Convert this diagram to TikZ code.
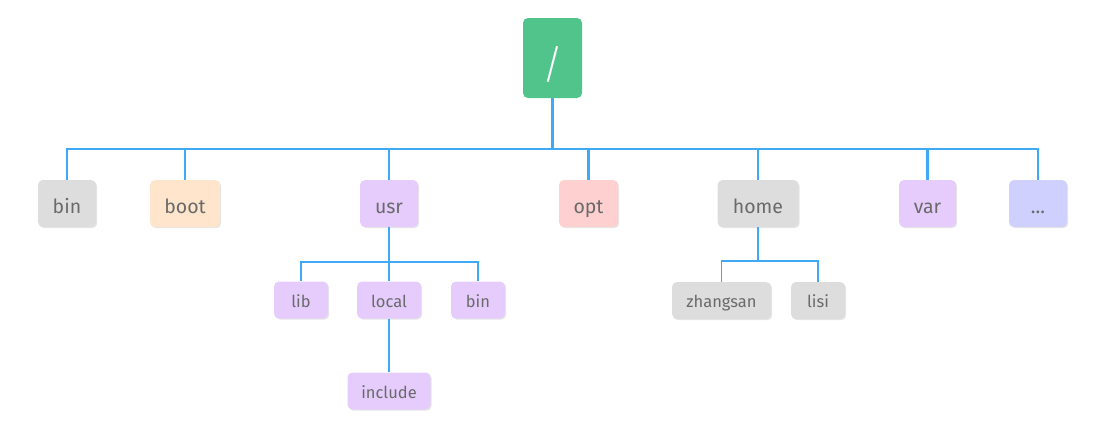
\documentclass[tikz,border=0pt]{standalone}
\usepackage{fontspec}
\setmainfont{Fira Sans}
\newfontfamily\lightfont{Fira Sans Light}
\usetikzlibrary{shadows}
\definecolor{rootgreen}{HTML}{50C48A}
\definecolor{linkblue}{HTML}{3FA9F5}
\definecolor{boxgray}{HTML}{DDDDDD}
\definecolor{boxpeach}{HTML}{FFE5CC}
\definecolor{boxpurple}{HTML}{E6CCFC}
\definecolor{boxpink}{HTML}{FFD0D0}
\definecolor{boxblue}{HTML}{D0D0FF}
\definecolor{txtgray}{HTML}{6A6A6A}
\newcommand\dn[2]{\raisebox{#1}[0pt][0pt]{#2}}
\tikzset{
  dirbox/.style={rounded corners=5pt, inner sep=0pt, text=txtgray,
    drop shadow={shadow xshift=1.2pt, shadow yshift=-1.2pt, opacity=0.25, fill=black!40}},
  bigbox/.style={dirbox, minimum height=47pt, font=\fontsize{19.5}{23}\selectfont},
  smallbox/.style={dirbox, minimum height=37pt, font=\fontsize{16.5}{19}\selectfont},
  thick link/.style={draw=linkblue, line width=2.8pt},
  thin link/.style={draw=linkblue, line width=1.6pt},
}
\begin{document}
\begin{tikzpicture}[x=1pt,y=-1pt]
\useasboundingbox (0,0) rectangle (1117,429);
% root
\node[rounded corners=5pt, fill=rootgreen, text=white, minimum width=59pt, minimum height=80pt,
  inner sep=0pt, font=\lightfont\fontsize{40}{44}\selectfont] (root) at (552.5,58) {\dn{-20pt}{/}};
% level 1
\node[bigbox, fill=boxgray, minimum width=58pt] (bin) at (67,203.5) {\dn{-10pt}{bin}};
\node[bigbox, fill=boxpeach, minimum width=70pt] (boot) at (185,203.5) {\dn{-10pt}{boot}};
\node[bigbox, fill=boxpurple, minimum width=58pt] (usr) at (389,203.5) {\dn{-10pt}{usr}};
\node[bigbox, fill=boxpink, minimum width=59pt] (opt) at (588.5,203.5) {\dn{-10pt}{opt}};
\node[bigbox, fill=boxgray, minimum width=81pt] (home) at (758,203.5) {\dn{-10pt}{home}};
\node[bigbox, fill=boxpurple, minimum width=57pt] (var) at (927.5,203.5) {\dn{-10pt}{var}};
\node[bigbox, fill=boxblue, minimum width=58pt] (more) at (1038,203.5) {\dn{-10pt}{...}};
% usr children
\node[smallbox, fill=boxpurple, minimum width=54pt] (lib) at (301,300) {\dn{-7pt}{lib}};
\node[smallbox, fill=boxpurple, minimum width=64pt] (local) at (389,300) {\dn{-7pt}{local}};
\node[smallbox, fill=boxpurple, minimum width=54pt] (ubin) at (478,300) {\dn{-7pt}{bin}};
\node[smallbox, fill=boxpurple, minimum width=83pt] (include) at (389,391) {\dn{-7pt}{include}};
% home children
\node[smallbox, fill=boxgray, minimum width=99pt] (zhangsan) at (721.5,300.5) {\dn{-7pt}{zhangsan}};
\node[smallbox, fill=boxgray, minimum width=54pt] (lisi) at (818,300.5) {\dn{-7pt}{lisi}};
% buses
\coordinate (bus) at (552.5,149);
\coordinate (usrbus) at (389,262);
\coordinate (homebus) at (758,261);
% level-1 links
\draw[thick link] (root.south) -- (bus);
\foreach \n in {bin,boot,usr,opt,home,var,more}
  \draw[thick link, line join=miter] (\n.north) |- (bus);
% usr links
\draw[thin link] (usr.south) -- (usrbus);
\foreach \n in {lib,local,ubin}
  \draw[thin link] (\n.north) |- (usrbus);
\draw[thin link] (local.south) -- (include.north);
% home links
\draw[thin link] (home.south) -- (homebus);
\foreach \n in {zhangsan,lisi}
  \draw[thin link] (\n.north) |- (homebus);
\end{tikzpicture}
\end{document}
